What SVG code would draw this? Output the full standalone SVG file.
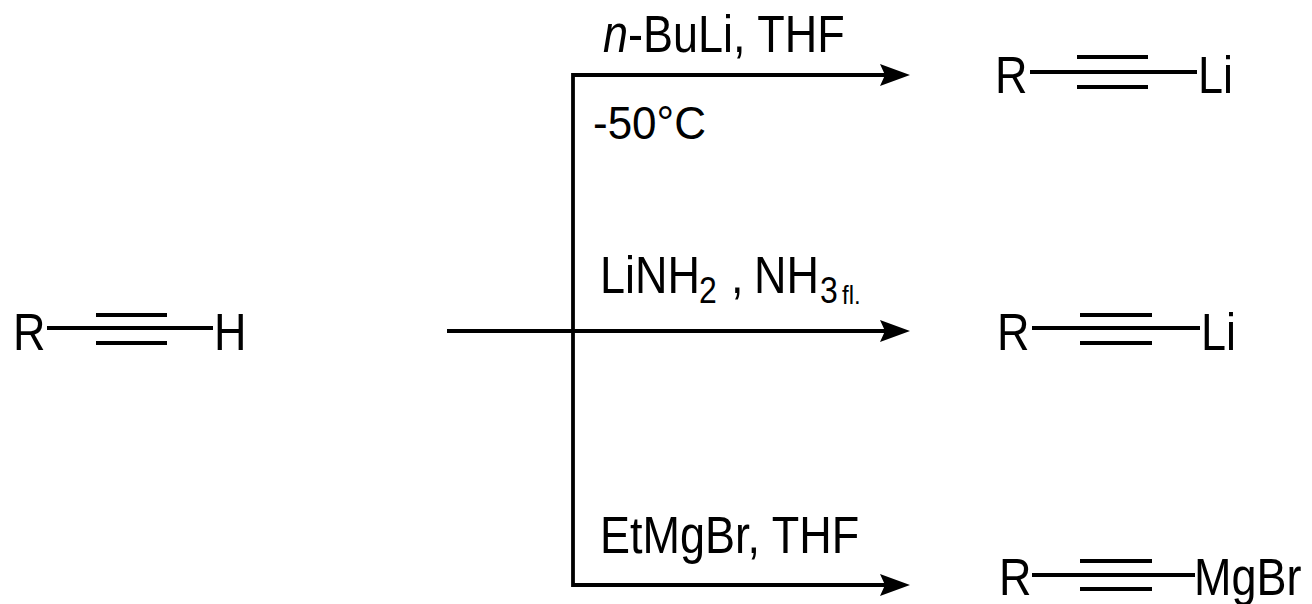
<svg xmlns="http://www.w3.org/2000/svg" width="1312" height="604" viewBox="0 0 1312 604">
<style>
text{font-family:"Liberation Sans",Arial,sans-serif;fill:#000}
.big{font-size:45px}
.sub{font-size:32px}
.tiny{font-size:24px}
.ln{stroke:#000;stroke-width:3.8;fill:none}
</style>
<defs>
<marker id="ah" markerUnits="userSpaceOnUse" markerWidth="32" markerHeight="24" refX="15" refY="11" orient="auto" viewBox="0 0 32 24">
<path d="M0,0 L30,11 L0,22 L5,11 Z" fill="#000"/>
</marker>
</defs>
<rect width="1312" height="604" fill="#fff"/>
<g id="reactant">
<text class="big" transform="translate(13,350) scale(1,1.15)">R</text>
<line class="ln" x1="47" y1="328" x2="213" y2="328"/>
<line class="ln" x1="96" y1="315" x2="167" y2="315"/>
<line class="ln" x1="96" y1="343" x2="167" y2="343"/>
<text class="big" transform="translate(214,350) scale(1,1.15)">H</text>
</g>
<g id="connectors">
<path class="ln" d="M447,331 H895" marker-end="url(#ah)"/>
<path class="ln" d="M573,75 H895" marker-end="url(#ah)"/>
<path class="ln" d="M573,585 H895" marker-end="url(#ah)"/>
<path class="ln" d="M573,73.1 V586.9"/>
</g>
<g id="reagents-top">
<text class="big" transform="translate(603,52) scale(1,1.15)"><tspan font-style="italic">n</tspan>-BuLi, THF</text>
<text style="font-size:44px" transform="translate(593,139) scale(1,1.05)">-50°C</text>
</g>
<g id="reagents-middle">
<text class="big" transform="translate(600,293) scale(1,1.15)">LiNH</text>
<text class="sub" transform="translate(699,303) scale(1,1.15)">2</text>
<text class="big" transform="translate(731,293) scale(1,1.15)">,</text>
<text class="big" transform="translate(754,293) scale(1,1.15)">NH</text>
<text class="sub" transform="translate(820,303) scale(1,1.15)">3</text>
<text class="tiny" transform="translate(842,304) scale(1,1.1)">fl.</text>
</g>
<g id="reagents-bottom">
<text class="big" transform="translate(600,553) scale(1,1.15)">EtMgBr, THF</text>
</g>
<g id="product-top">
<text class="big" transform="translate(995,93) scale(1,1.15)">R</text>
<line class="ln" x1="1030" y1="72" x2="1197" y2="72"/>
<line class="ln" x1="1077" y1="57" x2="1148" y2="57"/>
<line class="ln" x1="1077" y1="87" x2="1148" y2="87"/>
<text class="big" transform="translate(1198,93) scale(1,1.15)">Li</text>
</g>
<g id="product-middle">
<text class="big" transform="translate(997,350) scale(1,1.15)">R</text>
<line class="ln" x1="1032" y1="328" x2="1200" y2="328"/>
<line class="ln" x1="1080" y1="315" x2="1152" y2="315"/>
<line class="ln" x1="1080" y1="343" x2="1152" y2="343"/>
<text class="big" transform="translate(1201,350) scale(1,1.15)">Li</text>
</g>
<g id="product-bottom">
<text class="big" transform="translate(999,595) scale(1,1.15)">R</text>
<line class="ln" x1="1032" y1="575" x2="1195" y2="575"/>
<line class="ln" x1="1080" y1="561" x2="1152" y2="561"/>
<line class="ln" x1="1080" y1="589" x2="1152" y2="589"/>
<text class="big" transform="translate(1194,595) scale(1,1.15)">MgBr</text>
</g>
</svg>
